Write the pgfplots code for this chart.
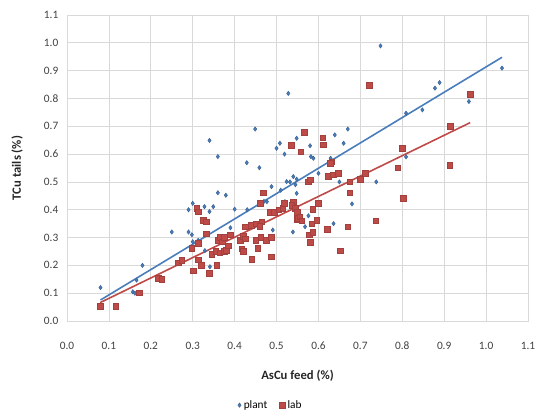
\documentclass[border=0pt]{standalone}
\usepackage{pgfplots}
\pgfplotsset{compat=1.18}
\usepackage{fontspec}
\setmainfont{Carlito}
\definecolor{plantblue}{HTML}{4A7EBB}
\definecolor{labred}{HTML}{BE4B48}
\definecolor{gridgray}{HTML}{D9D9D9}
\definecolor{ticktext}{HTML}{404040}
\begin{document}
\begin{tikzpicture}
\path[use as bounding box] (-50.25pt,-66.75pt) rectangle (357.75pt,240.75pt);
\begin{axis}[
  at={(0,0)}, anchor=south west, scale only axis,
  width=345.75pt, height=229.5pt,
  xmin=0, xmax=1.1, ymin=0, ymax=1.1,
  xtick={0,0.1,0.2,0.3,0.4,0.5,0.6,0.7,0.8,0.9,1.0,1.1},
  ytick={0,0.1,0.2,0.3,0.4,0.5,0.6,0.7,0.8,0.9,1.0,1.1},
  /pgf/number format/assume math mode=true,
  /pgf/number format/.cd, fixed, fixed zerofill, precision=1, /pgfplots/.cd,
  tick label style={font=\fontsize{8.5}{10}\selectfont, text=ticktext},
  xticklabel style={yshift=-12pt},
  yticklabel style={xshift=-3pt},
  major tick length=0pt,
  grid=major, major grid style={gridgray, line width=0.6pt},
  axis line style={gridgray, line width=0.6pt},
  xlabel={\textbf{AsCu feed (\%)}},
  ylabel={\textbf{TCu tails (\%)}},
  label style={font=\fontsize{9.5}{11}\selectfont, text=black!85},
  xlabel style={at={(axis description cs:0.5,-0.178)}, anchor=center},
  ylabel style={at={(axis description cs:-0.108,0.5)}, anchor=center},
  legend style={at={(axis description cs:0.44,-0.275)}, anchor=center, draw=none,
    font=\fontsize{8.5}{10}\selectfont, legend columns=2,
    /tikz/every even column/.append style={column sep=6pt}},
  legend image code/.code={\draw[#1] (0pt,0pt) -- plot coordinates {(0.1cm,0cm)};},
]
\addplot[only marks, mark=diamond*, mark size=1.6pt, draw=plantblue!80!black, fill=plantblue] coordinates {
(0.08,0.12) (0.157,0.105) (0.162,0.10) (0.166,0.147) (0.18,0.20)
(0.25,0.32) (0.29,0.32) (0.298,0.31) (0.29,0.40) (0.30,0.423)
(0.30,0.285) (0.313,0.29) (0.328,0.411) (0.34,0.393) (0.349,0.411)
(0.329,0.253) (0.341,0.195) (0.34,0.649) (0.36,0.591) (0.36,0.461)
(0.379,0.452) (0.39,0.335) (0.40,0.402) (0.429,0.569) (0.449,0.69)
(0.459,0.551) (0.477,0.429) (0.488,0.483) (0.491,0.327) (0.50,0.621)
(0.508,0.639) (0.519,0.60) (0.52,0.429) (0.524,0.501) (0.528,0.818)
(0.532,0.50) (0.54,0.519) (0.548,0.51) (0.548,0.459) (0.539,0.32)
(0.548,0.657) (0.568,0.339) (0.576,0.378) (0.58,0.63) (0.582,0.591)
(0.588,0.585) (0.60,0.531) (0.629,0.585) (0.636,0.35) (0.639,0.669)
(0.65,0.50) (0.66,0.639) (0.67,0.69) (0.68,0.421) (0.70,0.513)
(0.738,0.50) (0.748,0.989) (0.809,0.59) (0.809,0.747) (0.848,0.759)
(0.878,0.837) (0.889,0.857) (0.959,0.789) (1.038,0.909)
(0.47,0.43) (0.51,0.47) (0.545,0.49) (0.43,0.40)
};
\addlegendentry{plant}
\addplot[only marks, mark=square*, mark size=2.1pt, draw=labred!85!black, fill=labred] coordinates {
(0.079,0.054) (0.116,0.054) (0.173,0.102) (0.218,0.153) (0.226,0.15)
(0.266,0.21) (0.274,0.219) (0.301,0.181) (0.298,0.261) (0.313,0.279)
(0.313,0.22) (0.31,0.405) (0.313,0.393) (0.325,0.363) (0.333,0.357)
(0.332,0.313) (0.32,0.20) (0.34,0.172) (0.357,0.20)
(0.345,0.24) (0.355,0.25) (0.365,0.245) (0.375,0.25) (0.38,0.255)
(0.36,0.29) (0.365,0.30) (0.37,0.285) (0.375,0.30) (0.385,0.27) (0.39,0.31)
(0.413,0.29) (0.42,0.305) (0.425,0.295) (0.417,0.26) (0.42,0.25)
(0.441,0.222) (0.455,0.261) (0.45,0.29) (0.462,0.30) (0.475,0.29) (0.487,0.30)
(0.488,0.231) (0.44,0.345) (0.452,0.35) (0.465,0.357) (0.46,0.34)
(0.425,0.339) (0.469,0.461) (0.461,0.423)
(0.485,0.39) (0.495,0.39) (0.505,0.40) (0.515,0.405) (0.519,0.423)
(0.548,0.365) (0.551,0.37) (0.54,0.429) (0.536,0.417) (0.544,0.405)
(0.535,0.631) (0.558,0.609) (0.566,0.679) (0.61,0.659) (0.612,0.633)
(0.632,0.573) (0.628,0.567) (0.575,0.50) (0.58,0.507)
(0.623,0.52) (0.635,0.525) (0.647,0.53) (0.675,0.50) (0.70,0.51) (0.711,0.531)
(0.675,0.461) (0.60,0.423) (0.586,0.402) (0.55,0.39) (0.555,0.375) (0.56,0.36)
(0.596,0.362) (0.584,0.35) (0.621,0.33) (0.67,0.339) (0.578,0.31) (0.586,0.32)
(0.58,0.282) (0.652,0.252) (0.721,0.848) (0.737,0.361) (0.789,0.551)
(0.80,0.621) (0.803,0.441) (0.913,0.56) (0.915,0.699) (0.962,0.814)
};
\addlegendentry{lab}
\addplot[forget plot, plantblue, line width=1.2pt] coordinates {(0.08,0.0755) (1.038,0.948)};
\addplot[forget plot, labred, line width=1.2pt] coordinates {(0.079,0.066) (0.962,0.713)};
\end{axis}
\end{tikzpicture}
\end{document}
